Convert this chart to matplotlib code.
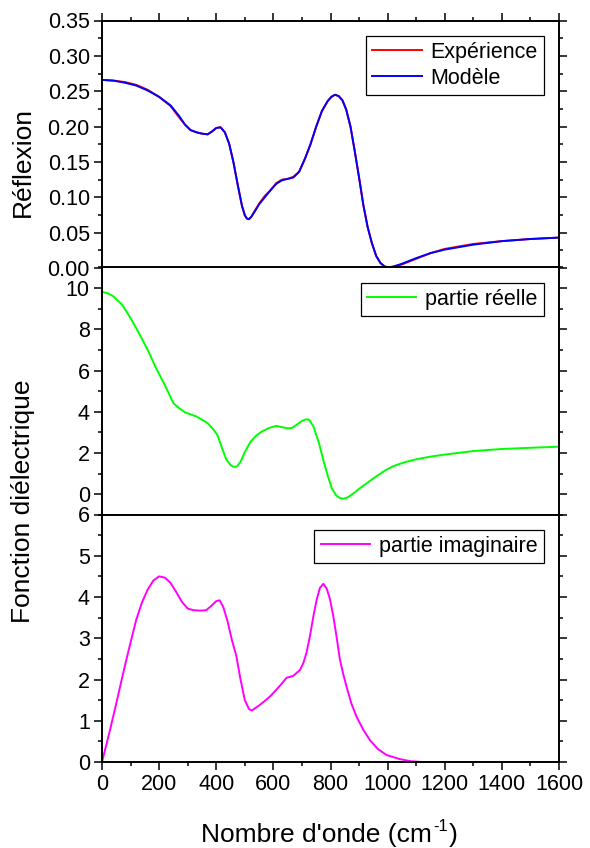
import numpy as np
import matplotlib.pyplot as plt
from matplotlib.ticker import MultipleLocator, FormatStrFormatter

plt.rcParams['font.family'] = ['Liberation Sans', 'DejaVu Sans']

# --- Réflexion (top panel) ---
x_refl = [0, 40, 80, 120, 160, 200, 240, 270, 290, 310, 330, 350, 370, 385, 400,
          415, 430, 445, 460, 475, 490, 500, 507, 514, 522, 535, 550, 570, 590,
          610, 630, 650, 670, 690, 710, 730, 750, 770, 790, 803, 816, 829, 842,
          855, 870, 885, 900, 915, 930, 945, 960, 975, 990, 1005, 1020, 1050,
          1100, 1150, 1200, 1300, 1400, 1500, 1600]
r_model = [0.266, 0.265, 0.262, 0.258, 0.251, 0.242, 0.230, 0.215, 0.203, 0.195,
           0.192, 0.190, 0.189, 0.193, 0.198, 0.199, 0.192, 0.176, 0.150, 0.118,
           0.088, 0.075, 0.070, 0.069, 0.072, 0.080, 0.090, 0.100, 0.110, 0.119,
           0.124, 0.126, 0.128, 0.136, 0.154, 0.175, 0.200, 0.222, 0.236, 0.242,
           0.245, 0.243, 0.237, 0.224, 0.200, 0.165, 0.128, 0.089, 0.058, 0.035,
           0.017, 0.007, 0.002, 0.001, 0.002, 0.006, 0.014, 0.021, 0.026, 0.033,
           0.038, 0.041, 0.043]
r_exp = [0.266, 0.265, 0.263, 0.259, 0.252, 0.242, 0.229, 0.213, 0.203, 0.195,
         0.192, 0.190, 0.189, 0.193, 0.198, 0.199, 0.192, 0.176, 0.150, 0.118,
         0.088, 0.074, 0.070, 0.069, 0.072, 0.081, 0.091, 0.102, 0.110, 0.120,
         0.125, 0.126, 0.129, 0.136, 0.154, 0.175, 0.200, 0.222, 0.236, 0.242,
         0.245, 0.243, 0.237, 0.224, 0.200, 0.165, 0.128, 0.089, 0.058, 0.035,
         0.017, 0.007, 0.002, 0.001, 0.002, 0.005, 0.013, 0.021, 0.027, 0.034,
         0.038, 0.041, 0.043]

# --- partie réelle (middle panel) ---
x_re = [0, 20, 40, 70, 100, 130, 160, 190, 220, 250, 270, 290, 310, 330, 350,
        370, 390, 405, 420, 435, 450, 458, 466, 474, 485, 500, 520, 540, 560,
        585, 610, 630, 650, 665, 680, 700, 715, 725, 740, 760, 775, 790, 805,
        820, 832, 844, 856, 870, 885, 900, 925, 960, 990, 1020, 1060, 1100,
        1150, 1200, 1300, 1400, 1500, 1600]
eps_re = [9.82, 9.75, 9.60, 9.20, 8.55, 7.80, 7.00, 6.10, 5.30, 4.42, 4.18, 3.98,
          3.88, 3.78, 3.62, 3.45, 3.15, 2.85, 2.25, 1.70, 1.42, 1.35, 1.33, 1.38,
          1.58, 2.05, 2.55, 2.85, 3.05, 3.22, 3.32, 3.26, 3.20, 3.22, 3.36, 3.56,
          3.64, 3.62, 3.30, 2.47, 1.65, 0.92, 0.28, -0.05, -0.17, -0.21, -0.17,
          -0.06, 0.10, 0.27, 0.52, 0.87, 1.15, 1.37, 1.56, 1.70, 1.83, 1.93,
          2.10, 2.20, 2.26, 2.31]

# --- partie imaginaire (bottom panel) ---
x_im = [0, 25, 50, 75, 100, 120, 140, 160, 180, 200, 220, 240, 260, 280, 300,
        320, 345, 365, 385, 400, 412, 425, 440, 455, 470, 485, 500, 515, 525,
        550, 570, 590, 610, 623, 646, 670, 693, 705, 716, 728, 740, 752, 763,
        775, 787, 798, 810, 822, 833, 845, 856, 873, 891, 915, 938, 965, 996,
        1043, 1080, 1120, 1200, 1400, 1600]
eps_im = [0.0, 0.69, 1.42, 2.18, 2.90, 3.45, 3.87, 4.18, 4.40, 4.50, 4.47, 4.34,
          4.12, 3.88, 3.72, 3.68, 3.67, 3.68, 3.80, 3.90, 3.92, 3.75, 3.40, 2.95,
          2.58, 2.00, 1.50, 1.28, 1.25, 1.37, 1.48, 1.60, 1.75, 1.85, 2.04, 2.09,
          2.23, 2.40, 2.65, 3.05, 3.53, 3.95, 4.22, 4.32, 4.20, 3.95, 3.53, 3.00,
          2.48, 2.12, 1.83, 1.42, 1.10, 0.78, 0.53, 0.32, 0.17, 0.07, 0.02, 0.0,
          0.0, 0.0, 0.0]

fig = plt.figure(figsize=(5.9, 8.48), dpi=100)
left, width = 102 / 590, 457 / 590
h = 247.5 / 848
ax1 = fig.add_axes([left, 1 - 268 / 848, width, h])
ax2 = fig.add_axes([left, 1 - 515 / 848, width, h], sharex=ax1)
ax3 = fig.add_axes([left, 1 - 762 / 848, width, h], sharex=ax1)

ax1.plot(x_refl, r_exp, color='#ff0000', lw=1.4, label='Expérience')
ax1.plot(x_refl, r_model, color='#0000ff', lw=1.4, label='Modèle')
ax2.plot(x_re, eps_re, color='#00ff00', lw=1.4, label='partie réelle')
ax3.plot(x_im, eps_im, color='#ff00ff', lw=1.4, label='partie imaginaire')

ax1.set_ylim(0, 0.35)
ax1.yaxis.set_major_locator(MultipleLocator(0.05))
ax1.yaxis.set_minor_locator(MultipleLocator(0.025))
ax1.yaxis.set_major_formatter(FormatStrFormatter('%.2f'))
ax2.set_ylim(-1, 11)
ax2.yaxis.set_major_locator(MultipleLocator(2))
ax2.yaxis.set_minor_locator(MultipleLocator(1))
ax3.set_ylim(0, 6)
ax3.yaxis.set_major_locator(MultipleLocator(1))
ax3.yaxis.set_minor_locator(MultipleLocator(0.5))
ax3.set_xlim(0, 1600)
ax3.xaxis.set_major_locator(MultipleLocator(200))
ax3.xaxis.set_minor_locator(MultipleLocator(100))

for i, ax in enumerate([ax1, ax2, ax3]):
    for s in ax.spines.values():
        s.set_linewidth(1.4)
    ax.tick_params(which='both', direction='out', top=(i == 0), right=True,
                   labelsize=15.5, width=1.1, pad=3)
    ax.tick_params(which='major', length=5.8)
    ax.tick_params(which='minor', length=3.2)
    ax.tick_params(axis='x', labelbottom=(i == 2))
    leg = ax.legend(loc='upper right', fontsize=15.5, frameon=True, fancybox=False,
                    framealpha=1, edgecolor='black', handlelength=2.3,
                    labelspacing=0.22, borderaxespad=0.7, borderpad=0.3,
                    handletextpad=0.4)
    leg.get_frame().set_linewidth(0.9)

fig.text(23 / 590, 1 - 162 / 848, 'Réflexion', rotation=90, fontsize=19,
         ha='center', va='center')
fig.text(23 / 590, 1 - 501 / 848, 'Fonction diélectrique', rotation=90,
         fontsize=19, ha='center', va='center')

# x label with a plain hyphen superscript, built from pieces
renderer = fig.canvas.get_renderer()
base_y = 1 - 842 / 848
t1 = fig.text(201 / 590, base_y, "Nombre d'onde (cm", fontsize=19,
              ha='left', va='baseline')
bb = t1.get_window_extent(renderer)
t2 = fig.text((bb.x1 + 1) / 590, base_y + 11 / 848, "-1", fontsize=12,
              ha='left', va='baseline')
bb2 = t2.get_window_extent(renderer)
fig.text((bb2.x1 + 1) / 590, base_y, ")", fontsize=19, ha='left', va='baseline')

fig.savefig('out.png', dpi=100)
